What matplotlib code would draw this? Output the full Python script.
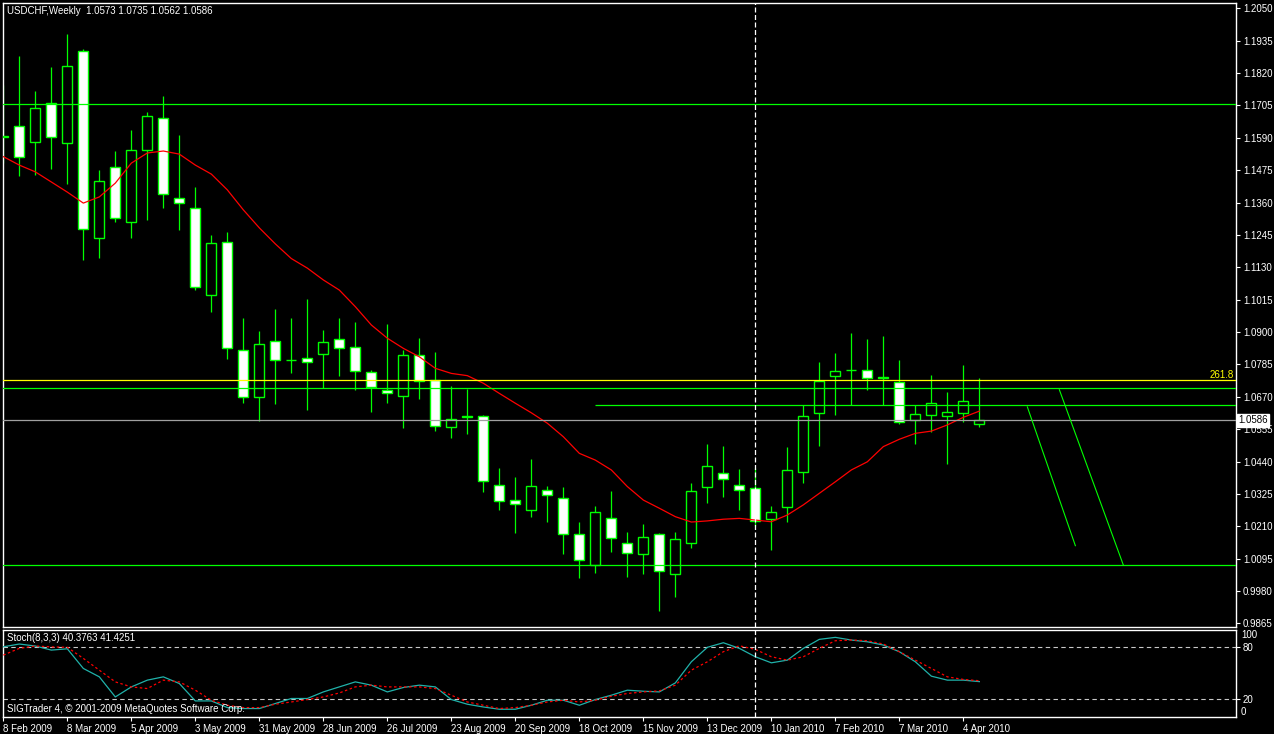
import numpy as np
import pandas as pd
import matplotlib
matplotlib.use("Agg")
import matplotlib.pyplot as plt

# figure size in pixels
W, H = 1274, 734
LIME = "#00FF00"

plt.rcParams["font.family"] = ["Liberation Sans", "DejaVu Sans"]

symbol_title = "USDCHF,Weekly  1.0573 1.0735 1.0562 1.0586"
stoch_title = "Stoch(8,3,3) 40.3763 41.4251"
copyright_text = "SIGTrader 4, \u00a9 2001-2009 MetaQuotes Software Corp."

first_week = "2009-02-08"

# weekly OHLC
opens = [1.1598, 1.1631, 1.1574, 1.1713, 1.1570, 1.1897, 1.1233, 1.1485, 1.1290, 1.1546,
         1.1659, 1.1377, 1.1340, 1.1033, 1.1219, 1.0835, 1.0668, 1.0867, 1.0800, 1.0807,
         1.0821, 1.0874, 1.0846, 1.0757, 1.0693, 1.0672, 1.0817, 1.0729, 1.0562, 1.0599,
         1.0601, 1.0356, 1.0302, 1.0267, 1.0338, 1.0309, 1.0181, 1.0071, 1.0238, 1.0150,
         1.0110, 1.0181, 1.0039, 1.0150, 1.0348, 1.0398, 1.0356, 1.0345, 1.0235, 1.0277,
         1.0402, 1.0611, 1.0743, 1.0764, 1.0764, 1.0740, 1.0721, 1.0586, 1.0604, 1.0601,
         1.0611, 1.0573]
highs = [1.1778, 1.1881, 1.1756, 1.1842, 1.1959, 1.1905, 1.1476, 1.1543, 1.1618, 1.1682,
         1.1738, 1.1600, 1.1414, 1.1245, 1.1255, 1.0950, 1.0904, 1.0982, 1.0950, 1.1017,
         1.0907, 1.0950, 1.0936, 1.0764, 1.0929, 1.0835, 1.0879, 1.0829, 1.0708, 1.0699,
         1.0604, 1.0417, 1.0385, 1.0449, 1.0353, 1.0349, 1.0224, 1.0281, 1.0335, 1.0189,
         1.0217, 1.0186, 1.0189, 1.0363, 1.0501, 1.0494, 1.0412, 1.0416, 1.0281, 1.0491,
         1.0640, 1.0794, 1.0826, 1.0897, 1.0875, 1.0886, 1.0801, 1.0640, 1.0747, 1.0687,
         1.0783, 1.0735]
lows = [1.1500, 1.1455, 1.1458, 1.1479, 1.1427, 1.1157, 1.1164, 1.1292, 1.1235, 1.1298,
        1.1342, 1.1262, 1.1050, 1.0972, 1.0805, 1.0649, 1.0585, 1.0645, 1.0756, 1.0624,
        1.0700, 1.0745, 1.0695, 1.0617, 1.0649, 1.0560, 1.0663, 1.0549, 1.0525, 1.0539,
        1.0333, 1.0269, 1.0187, 1.0244, 1.0226, 1.0113, 1.0027, 1.0045, 1.0120, 1.0031,
        1.0041, 0.9910, 0.9958, 1.0132, 1.0292, 1.0313, 1.0269, 1.0210, 1.0125, 1.0224,
        1.0363, 1.0494, 1.0604, 1.0640, 1.0693, 1.0640, 1.0572, 1.0501, 1.0544, 1.0430,
        1.0579, 1.0562]
closes = [1.1594, 1.1521, 1.1695, 1.1592, 1.1844, 1.1267, 1.1435, 1.1304, 1.1546, 1.1666,
          1.1389, 1.1357, 1.1061, 1.1215, 1.0842, 1.0668, 1.0856, 1.0800, 1.0800, 1.0793,
          1.0864, 1.0842, 1.0760, 1.0704, 1.0682, 1.0817, 1.0725, 1.0565, 1.0590, 1.0599,
          1.0370, 1.0299, 1.0288, 1.0352, 1.0320, 1.0181, 1.0089, 1.0260, 1.0167, 1.0114,
          1.0171, 1.0050, 1.0164, 1.0334, 1.0423, 1.0377, 1.0338, 1.0228, 1.0260, 1.0409,
          1.0601, 1.0726, 1.0760, 1.0764, 1.0736, 1.0735, 1.0579, 1.0608, 1.0647, 1.0615,
          1.0654, 1.0586]

# red moving average
ma_values = [1.1523, 1.1493, 1.1469, 1.1433, 1.1397, 1.1358, 1.1380, 1.1429, 1.1500, 1.1536,
             1.1543, 1.1532, 1.1493, 1.1461, 1.1405, 1.1334, 1.1270, 1.1213, 1.1161, 1.1127,
             1.1085, 1.1049, 1.0990, 1.0925, 1.0878, 1.0842, 1.0812, 1.0771, 1.0753, 1.0745,
             1.0718, 1.0682, 1.0647, 1.0613, 1.0576, 1.0528, 1.0469, 1.0445, 1.0410, 1.0351,
             1.0303, 1.0274, 1.0244, 1.0225, 1.0229, 1.0235, 1.0238, 1.0232, 1.0226, 1.0250,
             1.0286, 1.0327, 1.0368, 1.0410, 1.0439, 1.0493, 1.0519, 1.0540, 1.0548, 1.0570,
             1.0597, 1.0619]

# stochastic (8,3,3)
stoch_main = [80.6, 83.8, 81.5, 76.8, 78.3, 55.6, 45.9, 22.7, 34.3, 42.1,
              45.9, 38.2, 18.1, 18.1, 10.4, 9.3, 9.3, 15.1, 20.9, 20.9,
              28.5, 34.3, 40.1, 36.3, 28.5, 33.6, 36.3, 34.3, 19.7, 14.3,
              11.1, 8.5, 8.5, 13.1, 18.9, 18.9, 13.1, 19.7, 24.7, 30.5,
              29.3, 28.5, 38.9, 63.3, 80.0, 85.3, 78.8, 69.1, 62.1, 65.2,
              78.8, 89.2, 91.5, 88.4, 86.4, 82.6, 74.9, 63.3, 46.7, 42.1,
              42.1, 40.4]
stoch_signal = [71.0, 78.8, 81.5, 80.5, 80.0, 67.2, 53.6, 40.1, 34.3, 32.4,
                42.1, 40.1, 30.5, 18.9, 13.1, 10.4, 10.4, 14.3, 16.9, 19.7,
                22.7, 27.3, 34.3, 36.3, 34.3, 34.3, 34.3, 32.4, 24.7, 16.9,
                13.1, 9.3, 10.4, 13.1, 16.9, 18.9, 16.9, 18.9, 23.5, 26.7,
                28.5, 29.7, 36.3, 53.6, 63.3, 74.9, 81.8, 77.6, 69.1, 65.2,
                69.1, 78.8, 87.6, 88.4, 87.6, 83.8, 74.9, 65.2, 55.6, 45.9,
                42.9, 41.4]
stoch_levels = [80, 20]

# drawn objects
green_levels = [1.1709, 1.0700, 1.0071]
fib_level = 1.0729
fib_label = "261.8"
short_level = 1.0640
short_level_start = "2009-10-25"
bid_price = 1.0586
trend_a = ([64, 67], [1.0634, 1.0141])
trend_b = ([66, 70], [1.0695, 1.0072])
cursor_week = "2010-01-03"

price_tick_labels = ["1.2050", "1.1935", "1.1820", "1.1705", "1.1590", "1.1475", "1.1360",
                     "1.1245", "1.1130", "1.1015", "1.0900", "1.0785", "1.0670", "1.0555",
                     "1.0440", "1.0325", "1.0210", "1.0095", "0.9980", "0.9865"]
date_labels = ["8 Feb 2009", "8 Mar 2009", "5 Apr 2009", "3 May 2009", "31 May 2009",
               "28 Jun 2009", "26 Jul 2009", "23 Aug 2009", "20 Sep 2009", "18 Oct 2009",
               "15 Nov 2009", "13 Dec 2009", "10 Jan 2010", "7 Feb 2010", "7 Mar 2010",
               "4 Apr 2010"]

weeks = pd.date_range(first_week, periods=len(closes), freq="7D")
x = np.arange(len(closes))


def bar_of(date_str):
    return int(np.where(weeks == pd.Timestamp(date_str))[0][0])


fig = plt.figure(figsize=(W / 100, H / 100), dpi=100, facecolor="black")
ax = fig.add_axes([3 / W, 1 - 627 / H, 1233 / W, 624.5 / H], facecolor="black")
sub = fig.add_axes([3 / W, 1 - 716.6 / H, 1233 / W, 86.6 / H], facecolor="black")

# candles
o, h, l, c = (np.array(v) for v in (opens, highs, lows, closes))
bull = c >= o
ax.vlines(x, l, h, color=LIME, lw=0.9, zorder=2)
body_lo = np.minimum(o, c)
body_h = np.maximum(np.abs(c - o), 0.0001)
ax.bar(x, body_h, bottom=body_lo, width=0.64, color=np.where(bull, "black", "white"),
       edgecolor=LIME, linewidth=1.0, zorder=3)

ax.plot(x, ma_values, color="red", lw=0.9, zorder=4)

for lvl in green_levels:
    ax.axhline(lvl, color=LIME, lw=0.9, zorder=5)
ax.axhline(fib_level, color="#FFFF00", lw=0.9, zorder=5)
ax.text(76.9, fib_level, fib_label, color="#FFFF00", fontsize=7, ha="right", va="bottom", zorder=6)
ax.hlines(short_level, bar_of(short_level_start), 80, color=LIME, lw=0.9, zorder=5)
ax.axhline(bid_price, color="#A0A0A0", lw=0.9, zorder=5)
ax.plot(*trend_a, color=LIME, lw=0.8, zorder=5)
ax.plot(*trend_b, color=LIME, lw=0.8, zorder=5)

for a in (ax, sub):
    a.axvline(bar_of(cursor_week), color="white", lw=0.9, ls=(0, (4, 2)), zorder=6)
    a.set_xlim(-0.02, 77.04)
    for s in a.spines.values():
        s.set_color("white")
        s.set_linewidth(1.0)
    a.yaxis.tick_right()
    a.tick_params(colors="white", labelsize=7, length=3, width=0.8, pad=2)

ax.set_ylim(0.98521, 1.20706)
ax.set_yticks([float(t) for t in price_tick_labels])
ax.set_yticklabels(price_tick_labels)
ax.tick_params(axis="x", bottom=False, labelbottom=False)

ax.text(1.0 + 2 / 1233, bid_price, f"{bid_price:.4f}", transform=ax.get_yaxis_transform(),
        color="black", fontsize=7, ha="left", va="center", zorder=10, clip_on=False,
        bbox=dict(facecolor="white", edgecolor="white", boxstyle="square,pad=0.15"))

# stochastic panel
sub.plot(x, stoch_main, color="#20B2AA", lw=0.9, zorder=3)
sub.plot(x, stoch_signal, color="red", lw=0.9, ls=(0, (2, 2)), zorder=4)
for lvl in stoch_levels:
    sub.axhline(lvl, color="#C8C8C8", lw=0.8, ls=(0, (4, 3)), zorder=2)
sub.set_ylim(0, 100)
sub.set_yticks(stoch_levels)
sub.set_yticklabels([str(v) for v in stoch_levels])
sub.text(1.0 + 5 / 1233, 100, "100", transform=sub.get_yaxis_transform(), color="white",
         fontsize=7, ha="left", va="top", clip_on=False)
sub.text(1.0 + 5 / 1233, 0, "0", transform=sub.get_yaxis_transform(), color="white",
         fontsize=7, ha="left", va="bottom", clip_on=False)

date_pos = [bar_of(pd.to_datetime(d, format="%d %b %Y").strftime("%Y-%m-%d")) for d in date_labels]
sub.set_xticks(date_pos)
sub.set_xticklabels(date_labels)
for lbl in sub.get_xticklabels():
    lbl.set_horizontalalignment("left")

fig.text(7 / W, 1 - 11 / H, symbol_title, color="white", fontsize=7, va="center")
fig.text(7 / W, 1 - 638 / H, stoch_title, color="white", fontsize=7, va="center")
fig.text(7 / W, 1 - 709 / H, copyright_text, color="white", fontsize=7, va="center")

fig.savefig("out.png", dpi=100, facecolor="black")
